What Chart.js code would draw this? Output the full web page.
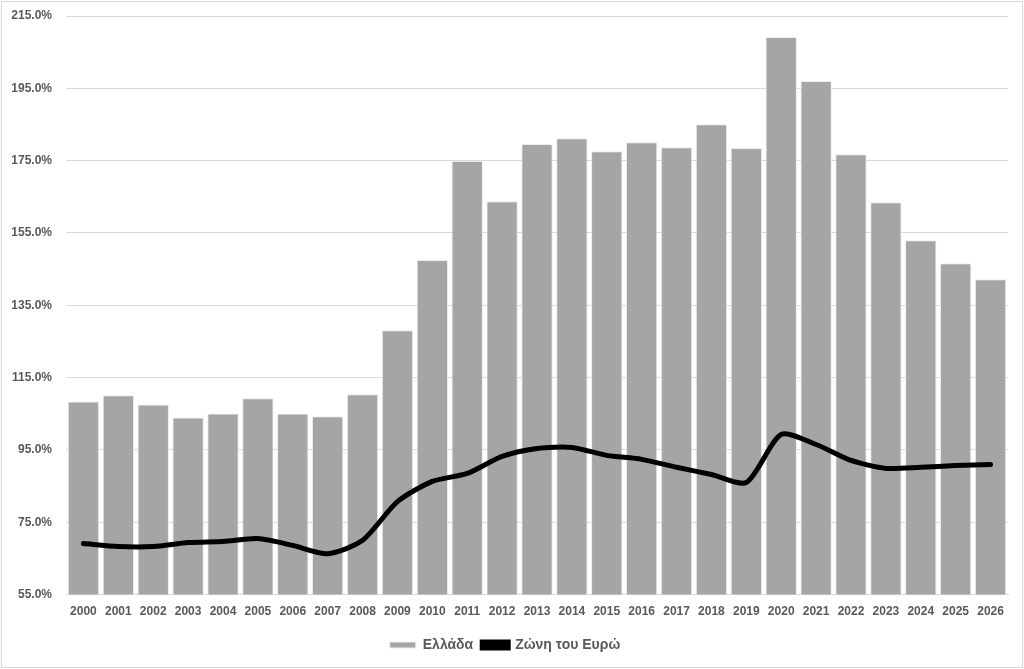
<!DOCTYPE html>
<html>
<head>
<meta charset="utf-8">
<script src="https://cdn.jsdelivr.net/npm/chart.js@4"></script>
<style>
  html, body { margin: 0; padding: 0; background: #fff; }
  #wrap { position: absolute; left: 1px; top: 1px; width: 1020px; height: 665px; border: 1px solid #d9d9d9; }
</style>
</head>
<body>
<div id="wrap"><canvas id="myChart"></canvas></div>
<script>
const years = ["2000","2001","2002","2003","2004","2005","2006","2007","2008","2009","2010","2011","2012","2013",
  "2014","2015","2016","2017","2018","2019","2020","2021","2022","2023","2024","2025","2026"];
const greece = [108.4, 110.1, 107.6, 104.0, 105.1, 109.3, 105.1, 104.3, 110.4, 128.1, 147.5, 174.9, 163.8, 179.6,
  181.2, 177.6, 180.1, 178.7, 185.1, 178.5, 209.2, 197.0, 176.8, 163.5, 153.0, 146.6, 142.2];
const euroArea = [69.1, 68.3, 68.3, 69.4, 69.7, 70.5, 68.6, 66.3, 70.0, 80.7, 86.3, 88.5, 93.2, 95.4,
  95.7, 93.5, 92.4, 90.2, 88.2, 86.0, 99.3, 96.5, 92.1, 89.9, 90.2, 90.7, 91.0];

const ctx = document.getElementById("myChart");

new Chart(ctx, {
  data: {
    labels: years,
    datasets: [
      {
        type: "line",
        label: "Ζώνη του Ευρώ",
        data: euroArea,
        borderColor: "#000000",
        backgroundColor: "#000000",
        borderWidth: 5,
        pointRadius: 0,
        tension: 0.25,
        borderCapStyle: "round",
        order: 0,
      },
      {
        type: "bar",
        label: "Ελλάδα",
        data: greece,
        backgroundColor: "#a5a5a5",
        borderColor: "#eeeeee",
        borderWidth: 1,
        barPercentage: 0.9,
        categoryPercentage: 1.0,
        order: 1,
      },
    ],
  },
  options: {
    responsive: true,
    maintainAspectRatio: false,
    animation: false,
    layout: { padding: { left: 0, right: 14, top: 14, bottom: 5 } },
    scales: {
      x: {
        grid: { display: false, drawTicks: false },
        border: { color: "#d9d9d9" },
        ticks: {
          color: "#595959",
          font: { family: "Liberation Sans", size: 12, weight: "bold" },
          maxRotation: 0,
          autoSkip: false,
          padding: 10,
        },
      },
      y: {
        min: 55,
        max: 215,
        border: { display: false },
        grid: { color: "#d9d9d9", drawTicks: false },
        afterFit: (scale) => {
          scale.width = 64;
          scale.paddingTop = 0;
          scale.paddingBottom = 0;
        },
        ticks: {
          stepSize: 20,
          color: "#595959",
          padding: 14,
          font: { family: "Liberation Sans", size: 12, weight: "bold" },
          callback: (v) => v.toFixed(1) + "%",
        },
      },
    },
    plugins: {
      legend: {
        position: "bottom",
        reverse: true,
        labels: {
          color: "#595959",
          font: { family: "Liberation Sans", size: 14, weight: "bold" },
          boxWidth: 26,
          boxHeight: 6,
          padding: 9,
        },
      },
      tooltip: { enabled: false },
    },
  },
});
</script>
</body>
</html>
